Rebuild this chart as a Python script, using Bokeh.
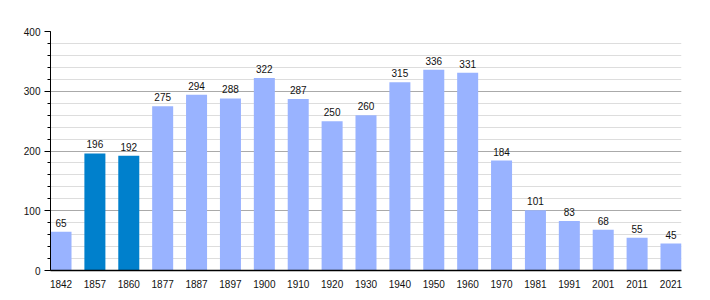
from bokeh.plotting import figure
from bokeh.models import Range1d, ColumnDataSource, FixedTicker, SingleIntervalTicker
from bokeh.embed import file_html
from bokeh.resources import INLINE
from bokeh.core.properties import value

years = ["1842", "1857", "1860", "1877", "1887", "1897", "1900", "1910", "1920", "1930",
         "1940", "1950", "1960", "1970", "1981", "1991", "2001", "2011", "2021"]
population = [65, 196, 192, 275, 294, 288, 322, 287, 250, 260,
              315, 336, 331, 184, 101, 83, 68, 55, 45]
highlight = ["1857", "1860"]

LIGHT = "#99b3ff"
DARK = "#0080cc"

idx = list(range(len(years)))
colors = [DARK if y in highlight else LIGHT for y in years]
src = ColumnDataSource(dict(x=idx, top=population, color=colors,
                            label=[str(v) for v in population]))

p = figure(width=710, height=300, output_backend="svg", toolbar_location=None,
           x_range=Range1d(-0.31, len(years) - 1 + 0.31), y_range=Range1d(0, 400),
           min_border_left=50, min_border_right=29, min_border_top=31, min_border_bottom=30)
p.outline_line_color = None
p.background_fill_color = "white"
p.border_fill_color = "white"

p.vbar(x="x", top="top", width=0.62, color="color", source=src, line_color=None)
p.text(x="x", y="top", text="label", source=src, text_align="center", text_baseline="bottom",
       y_offset=-5, text_font=value("Liberation Sans"), text_font_size="10px", text_color="#111111")

# grid
p.xgrid.visible = False
p.ygrid.ticker = SingleIntervalTicker(interval=100, num_minor_ticks=5)
p.ygrid.grid_line_color = "#aaaaaa"
p.ygrid.grid_line_width = 1
p.ygrid.minor_grid_line_color = "#dddddd"
p.ygrid.level = "underlay"

# axes
p.yaxis.ticker = SingleIntervalTicker(interval=100, num_minor_ticks=5)
p.yaxis.axis_line_color = "black"
p.yaxis.major_tick_line_color = "black"
p.yaxis.minor_tick_line_color = "black"
p.yaxis.major_tick_out = 6
p.yaxis.major_tick_in = 0
p.yaxis.minor_tick_out = 3
p.yaxis.minor_tick_in = 0
p.yaxis.major_label_text_font = "Liberation Sans"
p.yaxis.major_label_text_font_size = "10px"
p.yaxis.major_label_text_color = "#111111"
p.yaxis.major_label_standoff = 4

p.xaxis.ticker = FixedTicker(ticks=idx)
p.xaxis.major_label_overrides = {i: y for i, y in enumerate(years)}
p.xaxis.axis_line_color = "black"
p.xaxis.axis_line_width = 1.5
p.xaxis.major_tick_line_color = None
p.xaxis.minor_tick_line_color = None
p.xaxis.major_label_text_font = "Liberation Sans"
p.xaxis.major_label_text_font_size = "10px"
p.xaxis.major_label_text_color = "#111111"
p.xaxis.major_label_standoff = 3

open("out.html", "w").write(file_html(p, INLINE))
